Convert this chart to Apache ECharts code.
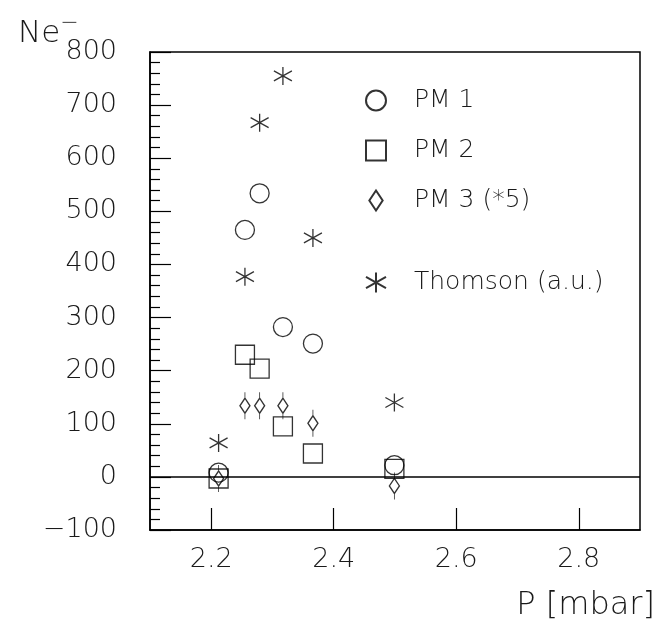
<!DOCTYPE html>
<html>
<head>
<meta charset="utf-8">
<script src="https://cdn.jsdelivr.net/npm/echarts@6/dist/echarts.min.js"></script>
<style>
  html, body { margin: 0; padding: 0; background: #fff; }
  #chart { width: 666px; height: 628px; }
</style>
</head>
<body>
<div id="chart"></div>
<script>
// pressure in mbar, shared by all four series
const pressure = [2.212, 2.255, 2.279, 2.317, 2.366, 2.499];
const pm1 = [8, 465, 534, 282, 251, 22];
const pm2 = [-3, 230, 204, 95, 44, 15];
const pm3 = [-3, 134, 134, 134, 101, -17];
const thomson = [64, 377, 667, 755, 450, 140];

const seriesNames = ['PM 1', 'PM 2', 'PM 3 (*5)', 'Thomson (a.u.)'];

const FONT = '"DejaVu Sans", sans-serif';
const W = 200;
const INK = '#1a1a1a';

const pair = ys => pressure.map((p, i) => [p, ys[i]]);

// symbols
const DIAMOND_PIN = 'path://M5 0 L5 6 L10 13.5 L5 21 L0 13.5 L5 6 M5 21 L5 27';
const DIAMOND = 'path://M5 0 L10 7.5 L5 15 L0 7.5 Z';
const STAR = 'path://M9 0 L9 18 M0 4 L18 14 M0 14 L18 4';

const markStyle = {
    color: 'rgba(0,0,0,0)',
    borderColor: '#000',
    borderWidth: 1.3,
};

const chart = echarts.init(document.getElementById('chart'), null, { renderer: 'canvas' });

const legendBase = {
    orient: 'vertical',
    left: 365,
    padding: 0,
    itemWidth: 20,
    itemHeight: 20,
    itemGap: 25,
    symbolKeepAspect: true,
    textStyle: {
        fontFamily: FONT,
        fontWeight: W,
        fontSize: 25,
        color: INK,
        lineHeight: 20,
        padding: [0, 0, 0, 23],
    },
};

chart.setOption({
    animation: false,
    backgroundColor: '#fff',
    title: [
        {
            text: 'Ne{s|−}',
            left: 13,
            top: 7,
            textStyle: {
                fontFamily: FONT,
                fontWeight: W,
                fontSize: 31,
                color: INK,
                rich: {
                    s: { fontFamily: FONT, fontWeight: W, fontSize: 22, color: INK, padding: [0, 0, 22, 0] },
                },
            },
        },
        {
            text: 'P [mbar]',
            right: 6,
            top: 585,
            textStyle: { fontFamily: FONT, fontWeight: W, fontSize: 32, color: INK },
        },
    ],
    legend: [
        Object.assign({}, legendBase, {
            top: 88,
            data: [
                { name: seriesNames[0], icon: 'circle' },
                { name: seriesNames[1], icon: 'rect' },
                { name: seriesNames[2], icon: DIAMOND },
            ],
        }),
        Object.assign({}, legendBase, {
            top: 270,
            data: [{ name: seriesNames[3], icon: STAR }],
        }),
    ],
    grid: {
        left: 150,
        right: 26,
        top: 52,
        bottom: 98,
        show: true,
        borderColor: '#000',
        borderWidth: 1.5,
    },
    xAxis: {
        type: 'value',
        min: 2.1,
        max: 2.9,
        splitNumber: 4,
        splitLine: { show: false },
        axisLine: { onZero: false, lineStyle: { color: '#000', width: 1.5 } },
        axisTick: { inside: true, length: 22, lineStyle: { color: '#000', width: 1.2 } },
        axisLabel: {
            showMinLabel: false,
            showMaxLabel: false,
            margin: 16,
            fontFamily: FONT,
            fontWeight: W,
            fontSize: 27,
            color: INK,
            formatter: v => v.toFixed(1),
        },
    },
    yAxis: {
        type: 'value',
        min: -100,
        max: 800,
        interval: 100,
        splitLine: { show: false },
        axisLine: { lineStyle: { color: '#000', width: 1.5 } },
        axisTick: { inside: true, length: 21, lineStyle: { color: '#000', width: 1.2 } },
        minorTick: { show: true, splitNumber: 5, length: 10, lineStyle: { color: '#000', width: 1.2 } },
        axisLabel: {
            margin: 33,
            fontFamily: FONT,
            fontWeight: W,
            fontSize: 27,
            color: INK,
            formatter: v => String(v).replace('-', '−'),
        },
    },
    series: [
        {
            name: seriesNames[0],
            type: 'scatter',
            data: pair(pm1),
            symbol: 'circle',
            symbolSize: 19,
            itemStyle: markStyle,
            z: 3,
            markLine: {
                silent: true,
                symbol: 'none',
                label: { show: false },
                lineStyle: { color: '#000', type: 'solid', width: 1.5 },
                data: [{ yAxis: 0 }],
            },
        },
        {
            name: seriesNames[1],
            type: 'scatter',
            data: pair(pm2),
            symbol: 'rect',
            symbolSize: 19,
            itemStyle: markStyle,
            z: 3,
        },
        {
            name: seriesNames[2],
            type: 'scatter',
            data: pair(pm3),
            symbol: DIAMOND_PIN,
            symbolSize: [10, 27],
            itemStyle: markStyle,
            z: 3,
        },
        {
            name: seriesNames[3],
            type: 'scatter',
            data: pair(thomson),
            symbol: STAR,
            symbolSize: 18,
            itemStyle: markStyle,
            z: 3,
        },
    ],
});
</script>
</body>
</html>
